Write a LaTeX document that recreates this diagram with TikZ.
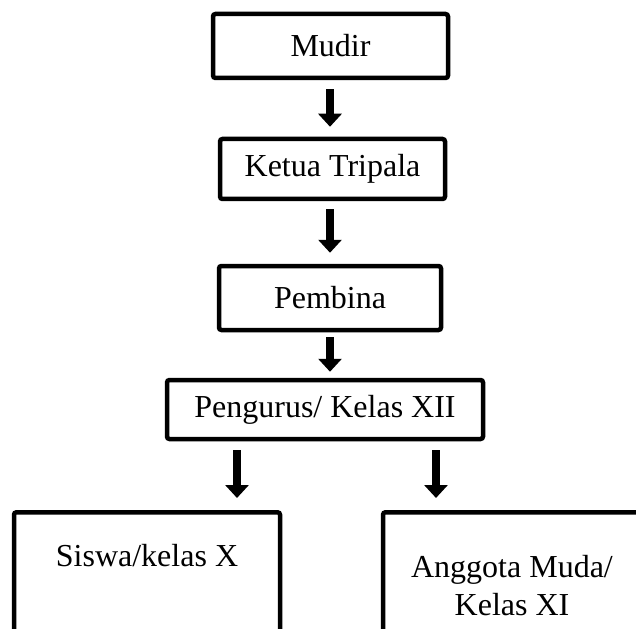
\documentclass[tikz,border=0pt]{standalone}
\usepackage{fontspec}
\setmainfont{Liberation Serif}
\usetikzlibrary{arrows.meta}
\begin{document}
\begin{tikzpicture}[x=1pt,y=-1pt,
  box/.style={draw,line width=4.5pt,rounded corners=2.5pt,rectangle,inner sep=0pt,font=\fontsize{32}{38}\selectfont},
  txt/.style={inner sep=0pt,align=center,font=\fontsize{32}{38}\selectfont},
  arr/.style={line width=8pt,-{Triangle[width=23pt,length=13pt]}}]
\useasboundingbox (0,0) rectangle (636,628);
\begin{scope}
\clip (0,0) rectangle (636,628);
\node[box,minimum width=235pt,minimum height=64pt] (mudir) at (330.5,46) {Mudir};
\node[box,minimum width=225pt,minimum height=60pt] (ketua) at (332.5,169) {Ketua Tripala};
\node[box,minimum width=222pt,minimum height=64pt] (pembina) at (330,298) {Pembina};
\node[box,minimum width=316pt,minimum height=59pt] (pengurus) at (325,409.5) {Pengurus/ Kelas XII};
\node[box,minimum width=266pt,minimum height=240pt,anchor=north] (siswa) at (147,510) {};
\node[box,minimum width=258pt,minimum height=240pt,anchor=north] (anggota) at (512,510) {};
\node[txt] (siswat) at (147,556) {Siswa/kelas X};
\node[txt] (anggotat) at (512,586) {Anggota Muda/\\Kelas XI};
\coordinate (xa) at (237,0);
\coordinate (xb) at (436,0);
\coordinate (xc) at (330,0);
\draw[arr,shorten <=9pt,shorten >=10pt] (mudir.south -| xc) -- (ketua.north -| xc);
\draw[arr,shorten <=8pt,shorten >=11pt] (ketua.south -| xc) -- (pembina.north -| xc);
\draw[arr,shorten <=5pt,shorten >=6pt] (pembina.south -| xc) -- (pengurus.north -| xc);
\draw[arr,shorten <=9pt,shorten >=12pt] (pengurus.south -| xa) -- (siswa.north -| xa);
\draw[arr,shorten <=9pt,shorten >=12pt] (pengurus.south -| xb) -- (anggota.north -| xb);
\end{scope}
\end{tikzpicture}
\end{document}
